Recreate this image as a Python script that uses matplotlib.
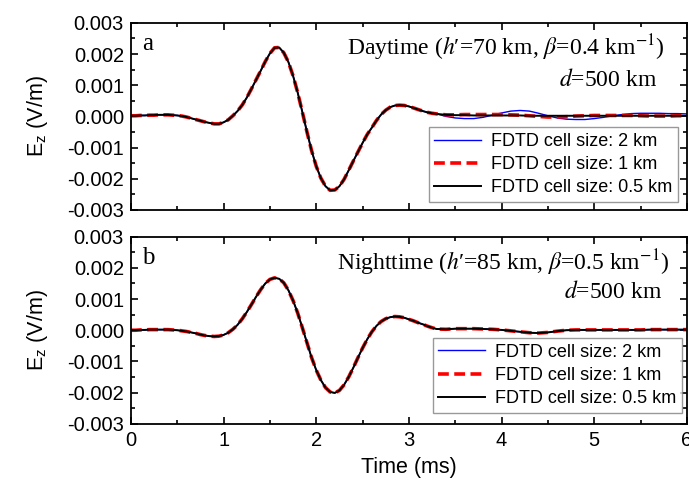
import numpy as np
import matplotlib
matplotlib.use("Agg")
import matplotlib.pyplot as plt
from matplotlib.ticker import MultipleLocator

# time axis (ms): fine steps over the pulse, coarser in the tail
t_head = [0.00, 0.05, 0.10, 0.15, 0.20, 0.25, 0.30, 0.35, 0.40, 0.45,
          0.50, 0.55, 0.60, 0.65, 0.70, 0.75, 0.80, 0.85, 0.90, 0.95,
          1.00, 1.05, 1.10, 1.15, 1.20, 1.25, 1.30, 1.35, 1.40, 1.45,
          1.50, 1.55, 1.60, 1.65, 1.70, 1.75, 1.80, 1.85, 1.90, 1.95,
          2.00, 2.05, 2.10, 2.15, 2.20, 2.25, 2.30, 2.35, 2.40, 2.45,
          2.50, 2.55, 2.60, 2.65, 2.70, 2.75, 2.80, 2.85, 2.90, 2.95,
          3.00, 3.05, 3.10, 3.15, 3.20, 3.25, 3.30]
t_tail = [3.4, 3.5, 3.6, 3.7, 3.8, 3.9, 4.0, 4.1, 4.2, 4.3, 4.4, 4.5,
          4.6, 4.7, 4.8, 4.9, 5.0, 5.1, 5.2, 5.3, 5.4, 5.5, 5.6, 5.7,
          5.8, 5.9, 6.0]

# daytime pulse (x1e-3 V/m), common to all cell sizes up to 3.3 ms
day_head = [0.02, 0.02, 0.03, 0.03, 0.04, 0.04, 0.05, 0.05, 0.05, 0.04,
            0.03, 0.01, -0.02, -0.06, -0.10, -0.14, -0.18, -0.21, -0.24, -0.24,
            -0.19, -0.11, 0.02, 0.17, 0.36, 0.60, 0.88, 1.17, 1.46, 1.76,
            2.02, 2.20, 2.21, 2.04, 1.74, 1.30, 0.76, 0.14, -0.50, -1.10,
            -1.60, -1.98, -2.24, -2.37, -2.36, -2.24, -2.02, -1.73, -1.43, -1.14,
            -0.85, -0.58, -0.36, -0.13, 0.06, 0.20, 0.30, 0.35, 0.36, 0.35,
            0.32, 0.27, 0.22, 0.17, 0.13, 0.10, 0.08]
day_tail_2km = [0.00, -0.05, -0.07, -0.07, -0.03, 0.04, 0.11, 0.17, 0.19, 0.17,
                0.10, 0.02, -0.05, -0.09, -0.10, -0.10, -0.07, -0.03, 0.02, 0.06,
                0.09, 0.10, 0.10, 0.10, 0.09, 0.09, 0.08]
day_tail_1km = [0.05, 0.05, 0.06, 0.06, 0.06, 0.06, 0.06, 0.05, 0.04, 0.02,
                0.00, -0.02, -0.02, -0.01, 0.01, 0.02, 0.03, 0.03, 0.03, 0.03,
                0.03, 0.02, 0.01, 0.01, 0.01, 0.02, 0.02]
day_tail_05km = [0.05, 0.04, 0.04, 0.03, 0.03, 0.03, 0.03, 0.03, 0.03, 0.02,
                 0.02, 0.02, 0.02, 0.02, 0.02, 0.02, 0.02, 0.02, 0.02, 0.02,
                 0.02, 0.02, 0.02, 0.02, 0.02, 0.02, 0.02]

# nighttime pulse (x1e-3 V/m), the three cell sizes overlap
night_head = [0.00, 0.00, 0.01, 0.01, 0.02, 0.02, 0.02, 0.02, 0.02, 0.01,
              0.00, -0.02, -0.04, -0.07, -0.10, -0.14, -0.17, -0.19, -0.20, -0.19,
              -0.15, -0.08, 0.03, 0.17, 0.36, 0.58, 0.82, 1.07, 1.30, 1.50,
              1.63, 1.68, 1.65, 1.52, 1.28, 0.95, 0.55, 0.08, -0.40, -0.88,
              -1.28, -1.60, -1.84, -1.98, -2.01, -1.93, -1.75, -1.50, -1.20, -0.88,
              -0.57, -0.29, -0.05, 0.14, 0.28, 0.37, 0.42, 0.44, 0.43, 0.40,
              0.35, 0.30, 0.24, 0.19, 0.13, 0.08, 0.04]
night_tail = [0.03, 0.05, 0.05, 0.05, 0.04, 0.03, 0.01, -0.02, -0.05, -0.08,
              -0.09, -0.07, -0.03, 0.00, 0.01, 0.01, 0.01, 0.01, 0.01, 0.01,
              0.01, 0.01, 0.02, 0.02, 0.02, 0.02, 0.02]

labels = ["FDTD cell size: 2 km", "FDTD cell size: 1 km", "FDTD cell size: 0.5 km"]

t = np.array(t_head + t_tail)
day_2 = np.array(day_head + day_tail_2km) * 1e-3
day_1 = np.array(day_head + day_tail_1km) * 1e-3
day_05 = np.array(day_head + day_tail_05km) * 1e-3
night = np.array(night_head + night_tail) * 1e-3

plt.rcParams["font.family"] = "Liberation Sans"
plt.rcParams["mathtext.fontset"] = "stix"
plt.rcParams["axes.unicode_minus"] = False

fig = plt.figure(figsize=(6.89, 4.86), dpi=100)
ax1 = fig.add_axes([0.190, 0.568, 0.807, 0.385])
ax2 = fig.add_axes([0.190, 0.128, 0.807, 0.385])


def style(ax, show_x):
    ax.set_xlim(0, 6)
    ax.set_ylim(-0.003, 0.003)
    ax.xaxis.set_major_locator(MultipleLocator(1))
    ax.xaxis.set_minor_locator(MultipleLocator(0.5))
    ax.yaxis.set_major_locator(MultipleLocator(0.001))
    ax.yaxis.set_minor_locator(MultipleLocator(0.0005))
    ax.tick_params(which="both", direction="in", top=True, right=True,
                   width=1.2, labelsize=14.5, pad=5)
    ax.tick_params(which="major", length=5)
    ax.tick_params(which="minor", length=3)
    ax.yaxis.set_major_formatter(plt.FuncFormatter(lambda v, p: "%.3f" % v))
    if not show_x:
        ax.tick_params(labelbottom=False)
    for s in ax.spines.values():
        s.set_linewidth(1.3)
    ax.set_ylabel(r"$\mathregular{E_z}$ (V/m)", fontsize=15.5, labelpad=12)


def draw(ax, y2, y1, y05, anchor):
    ax.plot(t, y2, color="#0000ff", lw=1.0, label=labels[0])
    ax.plot(t, y1, color="#ff0000", lw=2.6, dashes=(3, 1.5), label=labels[1])
    ax.plot(t, y05, color="black", lw=1.4, label=labels[2])
    ax.legend(loc="lower right", bbox_to_anchor=anchor, fontsize=13,
              frameon=True, fancybox=False, edgecolor="#808080",
              handlelength=2.6, handletextpad=0.55, borderpad=0.3,
              labelspacing=0.35, borderaxespad=0)


draw(ax1, day_2, day_1, day_05, (0.984, 0.043))
draw(ax2, night, night, night, (0.991, 0.059))
style(ax1, False)
style(ax2, True)
ax2.set_xlabel("Time (ms)", fontsize=15.5, labelpad=5)

serif = "Liberation Serif"
ax1.text(0.02, 0.885, "a", transform=ax1.transAxes, fontsize=18,
         family=serif, va="center")
ax2.text(0.02, 0.885, "b", transform=ax2.transAxes, fontsize=18,
         family=serif, va="center")
ax1.text(0.960, 0.866, "Daytime ($h$\u2032=70 km, $\\beta$=0.4 km$^{-1}$)",
         transform=ax1.transAxes, fontsize=17, family=serif,
         ha="right", va="center")
ax1.text(0.946, 0.695, r"$d$=500 km", transform=ax1.transAxes, fontsize=17,
         family=serif, ha="right", va="center")
ax2.text(0.969, 0.861, "Nighttime ($h$\u2032=85 km, $\\beta$=0.5 km$^{-1}$)",
         transform=ax2.transAxes, fontsize=17, family=serif,
         ha="right", va="center")
ax2.text(0.955, 0.706, r"$d$=500 km", transform=ax2.transAxes, fontsize=17,
         family=serif, ha="right", va="center")

fig.savefig("out.png", dpi=100)
